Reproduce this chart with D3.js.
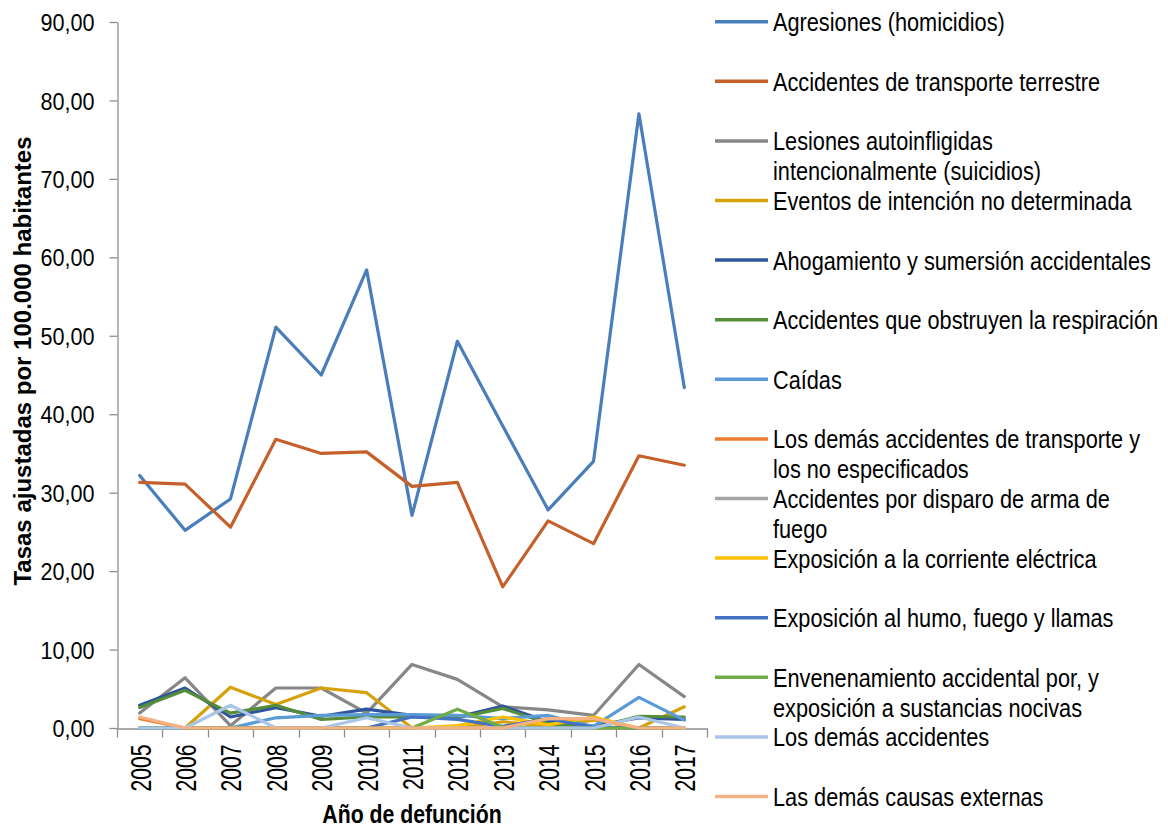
<!DOCTYPE html>
<html>
<head>
<meta charset="utf-8">
<script src="https://cdn.jsdelivr.net/npm/d3@7"></script>
<style>
  html, body { margin: 0; padding: 0; background: #fff; }
  svg { display: block; font-family: "Liberation Sans", Arial, sans-serif; }
</style>
</head>
<body>
<script>
// ---------- DATA ----------
const years = ["2005","2006","2007","2008","2009","2010","2011","2012","2013","2014","2015","2016","2017"];
const yTickValues = [0,10,20,30,40,50,60,70,80,90];
const yTickLabels = ["0,00","10,00","20,00","30,00","40,00","50,00","60,00","70,00","80,00","90,00"];

const seriesNames = [
  "Agresiones (homicidios)",
  "Accidentes de transporte terrestre",
  "Lesiones autoinfligidas\nintencionalmente (suicidios)",
  "Eventos de intención no determinada",
  "Ahogamiento y sumersión accidentales",
  "Accidentes que obstruyen la respiración",
  "Caídas",
  "Los demás accidentes de transporte y\nlos no especificados",
  "Accidentes por disparo de arma de\nfuego",
  "Exposición a la corriente eléctrica",
  "Exposición al humo, fuego y llamas",
  "Envenenamiento accidental por, y\nexposición a sustancias nocivas",
  "Los demás accidentes",
  "Las demás causas externas"
];
const seriesColors = ["#4a7ebb","#c5602b","#878787","#d6a20c","#2f569c","#558d3a","#5b9bd5",
                      "#ed7d31","#a5a5a5","#ffc000","#4472c4","#70ad47","#a9c6e8","#f4b183"];

const agresiones      = [32.2, 25.2, 29.2, 51.1, 45.0, 58.4, 27.1, 49.3, 38.5, 27.8, 34.0, 78.3, 43.4];
const transporte      = [31.3, 31.1, 25.6, 36.8, 35.0, 35.2, 30.8, 31.3, 18.0, 26.4, 23.5, 34.7, 33.5];
const suicidios       = [1.9, 6.4, 0.3, 5.1, 5.1, 1.9, 8.1, 6.2, 2.7, 2.3, 1.6, 8.1, 4.0];
const noDeterminada   = [0, 0, 5.2, 3.0, 5.1, 4.5, 0, 0, 0.8, 0.2, 1.0, 0, 2.7];
const ahogamiento     = [2.9, 5.1, 1.4, 2.6, 1.5, 2.4, 1.6, 1.4, 2.8, 0.8, 0.2, 1.3, 1.1];
const respiracion     = [2.6, 4.8, 1.9, 2.9, 1.1, 1.4, 1.4, 1.3, 2.5, 0.6, 0, 1.5, 1.4];
const caidas          = [0, 0, 0, 1.3, 1.6, 1.7, 1.7, 1.6, 1.2, 1.6, 0.2, 3.9, 1.0];
const demasTransporte = [1.2, 0, 0, 0, 0, 0, 0, 0, 0, 0, 0, 0, 0];
const disparo         = [0, 0, 0, 0, 0, 0, 0, 0, 0, 0, 0, 0, 0];
const corriente       = [0, 0, 0, 0, 0, 0, 0, 0.3, 1.4, 0.4, 1.4, 0, 0];
const humo            = [0, 0, 0, 0, 0, 0, 1.4, 1.1, 0.2, 1.2, 0.1, 0, 0];
const envenenamiento  = [0, 0, 0, 0, 0, 0, 0, 2.4, 0.1, 0, 0, 0, 0];
const demasAccidentes = [0, 0, 2.9, 0, 0, 1.3, 0, 0, 0, 0, 0, 1.4, 0];
const demasCausas     = [1.4, 0, 0, 0, 0, 0, 0, 0, 0, 1.2, 1.2, 0, 0];

const seriesValues = [agresiones, transporte, suicidios, noDeterminada, ahogamiento, respiracion, caidas,
                      demasTransporte, disparo, corriente, humo, envenenamiento, demasAccidentes, demasCausas];

const xTitle = "Año de defunción";
const yTitle = "Tasas ajustadas por 100.000 habitantes";

// ---------- CHART ----------
const W = 1168, H = 829;
const svg = d3.select("body").append("svg").attr("width", W).attr("height", H);
svg.append("rect").attr("width", W).attr("height", H).attr("fill", "#fff");

const x = d3.scaleBand().domain(years).range([117, 707]);
const y = d3.scaleLinear().domain([0, 90]).range([728, 22]);
const axisColor = "#8e8e8e";
const FONT = "'Liberation Sans', Arial, sans-serif";

// Y axis
const fy = 0.9;
const gy = svg.append("g").attr("transform", "translate(117.5,0)")
  .call(d3.axisLeft(y).tickValues(yTickValues).tickSize(8).tickSizeOuter(0)
        .tickFormat((d, i) => yTickLabels[i]));
gy.select(".domain").attr("stroke", axisColor).attr("stroke-width", 1.3);
gy.selectAll(".tick line").attr("stroke", axisColor).attr("stroke-width", 1.3);
gy.selectAll(".tick text").attr("fill", "#000").attr("font-size", 24).attr("font-family", FONT)
  .attr("text-anchor", "end").attr("dy", "0.36em")
  .attr("transform", `scale(${fy},1)`).attr("x", -23 / fy);

// X axis
const fx = 0.73;
const gx = svg.append("g").attr("transform", "translate(0,728.5)")
  .call(d3.axisBottom(x).tickSize(0).tickSizeOuter(0));
gx.select(".domain").attr("stroke", axisColor).attr("stroke-width", 1.3);
gx.selectAll(".tick text").attr("fill", "#000").attr("font-size", 29).attr("font-family", FONT)
  .attr("transform", `rotate(-90) scale(${fx},1)`).attr("text-anchor", "end")
  .attr("x", -16 / fx).attr("y", 11).attr("dy", 0);
const boundaries = years.map(d => x(d)).concat([x.range()[1]]);
gx.selectAll("line.bt").data(boundaries).enter().append("line").attr("class", "bt")
  .attr("x1", d => Math.round(d) + 0.5).attr("x2", d => Math.round(d) + 0.5)
  .attr("y1", 0).attr("y2", 9).attr("stroke", axisColor).attr("stroke-width", 1.3);

// Lines
const line = d3.line()
  .x((d, i) => x(years[i]) + x.bandwidth() / 2)
  .y(d => y(d));
svg.append("g").selectAll("path").data(seriesValues).enter().append("path")
  .attr("d", d => line(d))
  .attr("fill", "none")
  .attr("stroke", (d, i) => seriesColors[i])
  .attr("stroke-width", 3.2)
  .attr("stroke-linejoin", "round")
  .attr("stroke-linecap", "round");

// Axis titles
svg.append("text").attr("transform", "translate(412,823) scale(0.85,1)")
  .attr("text-anchor", "middle").attr("font-size", 25).attr("font-weight", "bold")
  .attr("fill", "#000").text(xTitle);
svg.append("text").attr("transform", "translate(31,361) rotate(-90)")
  .attr("text-anchor", "middle").attr("font-size", 24).attr("font-weight", "bold")
  .attr("fill", "#000").text(yTitle);

// Legend
const fl = 0.82;
const lg = svg.append("g");
const legY = i => 21.7 + 59.6 * i;
seriesNames.forEach((name, i) => {
  const cy = legY(i);
  lg.append("line").attr("x1", 715).attr("x2", 768).attr("y1", cy).attr("y2", cy)
    .attr("stroke", seriesColors[i]).attr("stroke-width", 3.5);
  name.split("\n").forEach((ln, j) => {
    lg.append("text").attr("transform", `translate(773,${cy + 9.5 + j * 30}) scale(${fl},1)`)
      .attr("font-size", 26.5).attr("fill", "#000").text(ln);
  });
});
</script>
</body>
</html>
